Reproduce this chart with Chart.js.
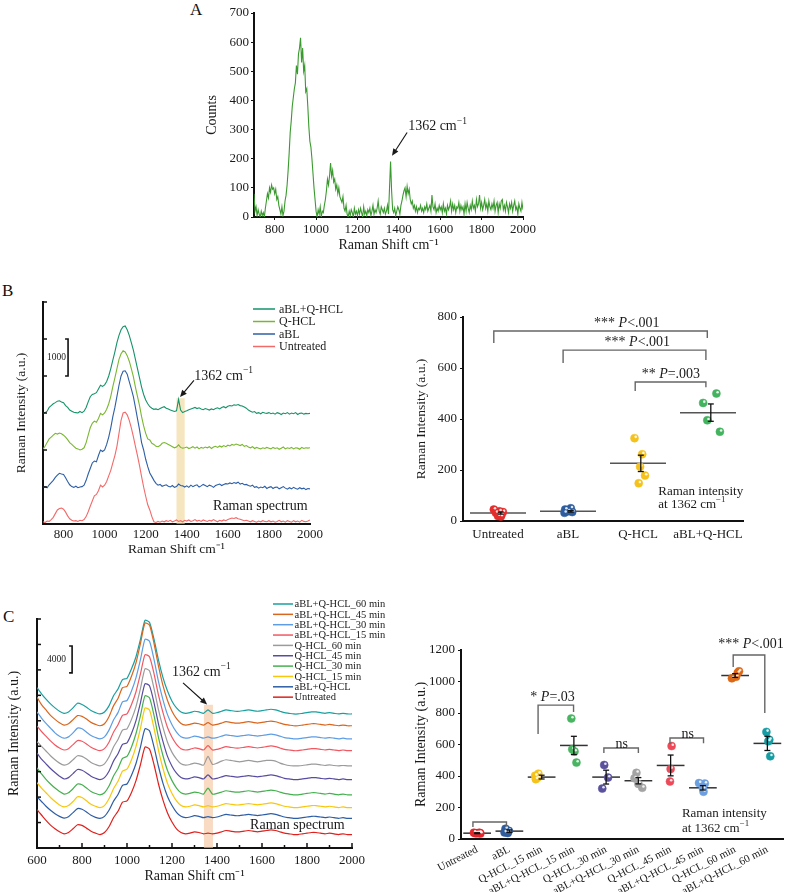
<!DOCTYPE html>
<html>
<head>
<meta charset="utf-8">
<script src="https://cdn.jsdelivr.net/npm/chart.js@4.4.0/dist/chart.umd.min.js"></script>
<style>
  body { margin: 0; background: #fff; width: 788px; height: 892px; position: relative; overflow: hidden; font-family: "Liberation Serif", serif; }
  canvas { position: absolute; }
  .panel { position: absolute; font-size: 17px; color: #111; }
</style>
</head>
<body>
<div class="panel" style="left:190px;top:0px">A</div>
<div class="panel" style="left:2px;top:281px">B</div>
<div class="panel" style="left:3px;top:607px">C</div>
<canvas id="chartA" width="340" height="256" style="left:200px;top:0px"></canvas>
<canvas id="chartB1" width="360" height="268" style="left:0px;top:290px"></canvas>
<canvas id="chartB2" width="388" height="250" style="left:400px;top:300px"></canvas>
<canvas id="chartC1" width="400" height="288" style="left:0px;top:598px"></canvas>
<canvas id="chartC2" width="388" height="292" style="left:400px;top:600px"></canvas>
<script>
// ---- data: panel A (counts, 700..2000 every 5 cm-1)
const countsA = [
  80,20,35,5,25,10,0,20,5,15,
  0,30,55,80,65,100,85,110,95,100,
  80,95,60,70,40,25,10,35,5,20,
  55,75,110,160,220,290,330,380,410,440,
  460,520,490,560,580,615,530,580,500,520,
  430,440,380,310,260,240,200,150,100,60,
  20,0,25,10,35,0,20,15,40,60,
  90,130,110,140,185,140,160,120,130,95,
  110,80,100,70,60,50,70,30,20,40,
  10,0,20,5,25,15,0,30,10,20,
  5,25,10,30,15,0,35,10,20,5,
  25,15,30,5,20,40,10,25,15,30,
  55,20,10,35,25,15,30,10,20,40,
  10,100,190,90,25,15,30,5,20,35,
  25,10,40,55,75,90,100,70,105,80,
  95,60,45,55,30,40,20,35,15,30,
  25,40,20,30,15,35,25,45,20,30,
  40,20,75,35,25,45,15,30,20,40,
  25,35,15,45,20,30,10,40,25,35,
  55,20,45,25,40,15,35,30,50,20,
  40,25,35,10,45,20,50,30,15,40,
  25,55,30,40,20,60,35,45,75,30,
  50,25,40,60,30,45,20,55,35,25,
  45,30,55,20,40,50,15,45,30,55,
  60,25,40,20,50,35,15,45,30,50,
  20,40,55,25,35,10,45,30,20,50,
  25];

// ---- data: panel B spectra (700..2000 every 10 cm-1)
const untreatedB = [
  60,40,80,70,120,180,280,380,420,430,
  400,320,220,140,100,80,90,70,100,90,
  120,200,330,480,620,760,800,900,1050,1000,
  1050,1150,1300,1450,1650,1850,2100,2450,2800,3000,
  3020,2950,2800,2600,2360,2100,1850,1580,1280,1000,
  750,520,380,200,60,40,70,50,80,60,
  90,70,100,60,80,110,70,90,60,100,
  80,110,70,90,120,80,100,70,110,90,
  70,100,80,120,90,60,100,80,110,90,
  120,140,160,150,170,140,130,110,90,100,
  80,60,90,70,50,80,60,90,70,60,
  90,60,80,50,70,100,60,80,50,90,
  70,50,90,60,80,50,100,70,60,80,
  110];
const aBLB = [
  990,1010,980,1060,1120,1180,1260,1320,1370,1350,
  1340,1250,1150,1060,1010,990,1020,980,1000,1010,
  1050,1180,1350,1500,1650,1700,1680,1850,2000,1960,
  2000,2150,2350,2600,2900,3150,3450,3750,4000,4130,
  4140,4050,3850,3650,3440,3150,2850,2550,2200,2000,
  1750,1550,1380,1280,1180,1100,1050,1070,1020,1040,
  1060,1020,1000,1040,990,1010,1080,1040,1030,1000,
  1030,990,1050,1010,1040,1060,1000,1030,1070,1040,
  1010,1050,1030,990,1040,1060,1080,1040,1070,1090,
  1080,1110,1090,1120,1100,1130,1080,1100,1060,1070,
  1040,1020,1050,990,1010,970,1000,980,1020,960,
  990,1010,960,990,1000,950,980,1010,970,940,
  980,950,990,960,940,980,950,970,930,960,
  950];
const qhclB = [
  2020,2100,2200,2300,2350,2400,2450,2430,2460,2440,
  2400,2350,2280,2200,2150,2100,2050,2030,2000,2020,
  2060,2200,2400,2600,2720,2780,2750,2850,2990,2950,
  3000,3100,3250,3450,3710,3950,4200,4450,4600,4680,
  4650,4550,4400,4200,3980,3700,3450,3200,2900,2650,
  2450,2300,2270,2180,2150,2100,2090,2120,2180,2200,
  2180,2150,2120,2090,2060,2080,2140,2070,2050,2060,
  2080,2040,2060,2090,2050,2080,2030,2070,2050,2080,
  2060,2090,2040,2080,2100,2070,2110,2080,2120,2090,
  2130,2110,2150,2130,2160,2140,2120,2150,2100,2120,
  2080,2060,2090,2040,2070,2050,2030,2060,2040,2070,
  2050,2030,2070,2040,2060,2020,2050,2080,2030,2060,
  2040,2070,2030,2060,2050,2020,2070,2040,2060,2050,
  2060];
const comboB = [
  2990,3010,3050,3150,3200,3250,3280,3320,3330,3300,
  3280,3200,3150,3080,3050,3020,3010,3000,3040,3010,
  3050,3150,3300,3440,3500,3520,3550,3650,3750,3720,
  3760,3850,4000,4200,4430,4650,4900,5100,5250,5330,
  5350,5250,5100,4900,4700,4450,4200,3950,3700,3500,
  3350,3250,3170,3130,3100,3110,3090,3120,3150,3170,
  3130,3110,3080,3060,3040,3060,3370,3080,3010,3040,
  3060,3090,3110,3130,3150,3120,3140,3110,3090,3120,
  3100,3080,3110,3090,3120,3140,3110,3150,3170,3140,
  3180,3200,3190,3220,3210,3230,3200,3190,3160,3130,
  3080,3050,3020,3040,2990,3010,2980,3020,3000,2990,
  3010,2980,3000,2970,3010,2990,2960,3000,2980,3010,
  2970,3000,2980,3010,2960,2990,3000,2970,2990,2980,
  2990];

// ---- data: panel B dot plot (intensity at 1362 cm-1)
const catsB = ['Untreated', 'aBL', 'Q-HCL', 'aBL+Q-HCL'];
const pointsB = [
  [45, 38, 32, 25, 20, 18, 35],
  [50, 45, 38, 32, 35],
  [325, 262, 213, 178, 148],
  [500, 463, 395, 350]
];
const jitterB = [
  [-0.06, 0.02, -0.03, 0.05, 0.0, 0.04, 0.07],
  [0.04, -0.04, 0.0, -0.05, 0.06],
  [-0.05, 0.06, 0.03, 0.1, 0.01],
  [0.12, -0.07, -0.01, 0.17]
];
const meansB = [31, 38, 226, 425];
const semB = [4, 3, 32, 34];

// ---- data: panel C spectra (600..2000 every 20 cm-1)
const untreatedC = [3700,2900,2100,1400,850,400,100,300,850,1450,1350,950,500,200,0,300,1150,2500,3450,4800,5000,6250,8000,10400,13000,12700,10400,7500,5100,3200,1850,850,300,100,200,400,300,100,200,100,200,400,600,500,400,400,500,600,500,400,500,600,700,600,400,200,100,0,0,100,200,300,300,200,100,200,100,0,100,0,0];
const comboC = [5600,4900,4200,3600,3100,2700,2450,2650,3250,3850,3750,3350,2850,2550,2400,2700,3600,4950,5950,7300,7500,8800,10550,13000,15700,15400,13000,10100,7600,5650,4300,3300,2700,2500,2600,2800,2700,2500,2650,2500,2600,2800,3000,2900,2800,2800,2900,3000,2900,2800,2900,3000,3100,3000,2800,2600,2500,2400,2400,2500,2600,2700,2700,2600,2500,2600,2500,2400,2500,2400,2400];
const q15C = [7700,6900,6200,5500,4900,4400,4100,4300,4900,5600,5500,5000,4500,4200,4000,4300,5300,6800,7900,9400,9700,11100,13100,15800,18800,18500,15800,12500,9800,7600,6100,5000,4300,4100,4200,4400,4300,4100,4300,4100,4200,4400,4600,4500,4400,4400,4500,4600,4500,4400,4500,4600,4700,4600,4400,4200,4100,4000,4000,4100,4200,4300,4300,4200,4100,4200,4100,4000,4100,4000,4000];
const q30C = [9900,9000,8200,7500,6900,6400,6000,6200,6800,7500,7400,6900,6400,6100,5900,6200,7200,8700,9800,11300,11600,13000,15000,17700,20600,20300,17700,14400,11700,9500,8000,6900,6200,6000,6100,6300,6200,6000,6900,6000,6100,6300,6500,6400,6300,6300,6400,6500,6400,6300,6400,6500,6600,6500,6300,6100,6000,5900,5900,6000,6100,6200,6200,6100,6000,6100,6000,5900,6000,5900,5900];
const q45C = [12100,11200,10500,9800,9200,8650,8250,8450,9050,9650,9550,9150,8650,8350,8150,8450,9400,10900,12000,13400,13600,15000,16900,19600,22400,22100,19600,16400,13800,11600,10150,9100,8450,8250,8350,8550,8450,8250,8850,8250,8350,8550,8750,8650,8550,8550,8650,8750,8650,8550,8650,8750,8850,8750,8550,8350,8250,8150,8150,8250,8350,8450,8450,8350,8250,8350,8250,8150,8250,8150,8150];
const q60C = [13800,13100,12400,11700,11100,10600,10300,10500,11100,11700,11600,11200,10700,10400,10200,10500,11500,13000,14100,15500,15700,17100,19000,21700,24600,24300,21700,18500,15900,13700,12200,11200,10500,10300,10400,10600,10500,10300,11600,10400,10600,10900,11100,11000,10900,10800,10900,11000,10900,10800,10900,11000,11000,10900,10600,10400,10250,10200,10200,10250,10350,10450,10450,10350,10250,10350,10250,10200,10250,10200,10200];
const combo15C = [16100,15300,14600,13900,13300,12850,12550,12750,13350,13950,13850,13450,12950,12650,12450,12750,13700,15200,16300,17700,17900,19300,21200,23900,26700,26400,23900,20700,18100,15900,14450,13400,12750,12550,12650,12850,12750,12550,13200,12550,12650,12850,13050,12950,12850,12850,12950,13050,12950,12850,12950,13050,13150,13050,12850,12650,12550,12450,12450,12550,12650,12750,12750,12650,12550,12650,12550,12450,12550,12450,12450];
const combo30C = [18200,17300,16500,15800,15100,14600,14300,14500,15100,15800,15700,15200,14700,14400,14200,14500,15500,17000,18100,19700,19900,21300,23300,26000,29000,28700,26000,22700,20000,17800,16300,15200,14500,14300,14400,14600,14500,14300,14500,14300,14400,14600,14800,14700,14600,14600,14700,14800,14700,14600,14700,14800,14900,14800,14600,14400,14300,14200,14200,14300,14400,14500,14500,14400,14300,14400,14300,14200,14300,14200,14200];
const combo45C = [20400,19300,18500,17700,17100,16600,16250,16450,17050,17650,17550,17150,16650,16350,16150,16450,17500,19100,20200,21800,22000,23500,25500,28400,31400,31100,28400,25000,22100,19900,18300,17200,16500,16250,16350,16550,16450,16250,16600,16250,16350,16550,16750,16650,16550,16550,16650,16750,16650,16550,16650,16750,16850,16750,16550,16350,16250,16150,16150,16250,16350,16450,16450,16350,16250,16350,16250,16150,16250,16150,16150];
const combo60C = [21800,20900,20100,19400,18800,18300,18000,18200,18800,19500,19300,18900,18400,18100,17900,18200,19100,20600,21600,23000,23200,24600,26400,29000,31800,31500,29000,25900,23300,21300,19800,18800,18200,18000,18100,18300,18200,18000,18500,18000,18100,18300,18500,18400,18300,18300,18400,18500,18400,18300,18400,18500,18600,18500,18300,18100,18000,17900,17900,18000,18100,18200,18200,18100,18000,18100,18000,17900,18000,17900,17900];
const seriesC = [untreatedC, comboC, q15C, q30C, q45C, q60C, combo15C, combo30C, combo45C, combo60C];
const labelsC = ['Untreated', 'aBL+Q-HCL', 'Q-HCL_15 min', 'Q-HCL_30 min', 'Q-HCL_45 min', 'Q-HCL_60 min',
  'aBL+Q-HCL_15 min', 'aBL+Q-HCL_30 min', 'aBL+Q-HCL_45 min', 'aBL+Q-HCL_60 min'];

// ---- data: panel C dot plot
const catsC = ['Untreated', 'aBL', 'Q-HCL_15 min', 'aBL+Q-HCL_15 min', 'Q-HCL_30 min', 'aBL+Q-HCL_30 min',
  'Q-HCL_45 min', 'aBL+Q-HCL_45 min', 'Q-HCL_60 min', 'aBL+Q-HCL_60 min'];
const pointsC = [
  [40, 38, 36, 35, 37, 39],
  [65, 52, 42, 38],
  [415, 402, 390, 380],
  [765, 570, 555, 485],
  [470, 390, 320],
  [420, 385, 350, 325],
  [590, 445, 365],
  [355, 352, 320, 300],
  [1020, 1030, 1055, 1065],
  [680, 630, 620, 525]
];
const jitterC = [
  [-0.1, 0.05, -0.05, 0.1, 0.0, 0.08],
  [-0.12, -0.02, -0.15, -0.05],
  [-0.1, -0.2, -0.12, -0.18],
  [-0.08, -0.05, 0.02, 0.08],
  [-0.06, 0.06, -0.12],
  [-0.06, -0.12, 0.0, 0.12],
  [0.03, 0.0, -0.02],
  [-0.12, 0.06, 0.0, 0.02],
  [-0.1, 0.03, 0.08, 0.12],
  [-0.03, 0.06, 0.03, 0.09]
];
const meansC = [37, 50, 393, 594, 393, 370, 467, 325, 1038, 607];
const semC = [3, 8, 12, 58, 44, 20, 66, 14, 12, 45];

// ---- styles
const SERIF = '"Liberation Serif", "Times New Roman", serif';
const colorsB1 = ['#f26a6a', '#2d5fa6', '#7ab730', '#15936a'];
const colorsB2 = ['#e52d2d', '#2e5d9f', '#f5c21b', '#44b35f'];
const colorsC1 = ['#e0201c', '#2d5da5', '#f8c70c', '#45b04f', '#574da0', '#9b9b9b', '#f15862', '#5d9de3', '#d9661c', '#1a9f9f'];
const colorsC2 = ['#e3262b', '#2f5c9c', '#f5c31a', '#48b561', '#5a529c', '#a3a3a3', '#ec4a58', '#6c9fdf', '#dc6714', '#169da3'];

Chart.defaults.font.family = SERIF;
Chart.defaults.color = '#1a1a1a';
Chart.defaults.animation = false;
Chart.defaults.plugins.legend.display = false;
Chart.defaults.plugins.tooltip.enabled = false;

const xsA = []; for (let s = 700; s <= 2000; s += 5) xsA.push(s);
const xsB = []; for (let s = 700; s <= 2000; s += 10) xsB.push(s);
const xsC = []; for (let s = 600; s <= 2000; s += 20) xsC.push(s);
const toXY = (xs, ys) => ys.map((v, i) => ({x: xs[i], y: v}));
const plain = {useGrouping: false};

// ---- helpers
const fixW = w => s => { s.width = w; };
const fixH = h => s => { s.height = h; };

function setFont(ctx, size, italic) {
  ctx.font = (italic ? 'italic ' : '') + size + 'px ' + SERIF;
}

// parts: [text, style] ; style 'i' = italic, 's' = superscript
function richText(ctx, parts, x, y, size, align) {
  let w = 0;
  for (const [t, st] of parts) { setFont(ctx, st === 's' ? size * 0.68 : size, st === 'i'); w += ctx.measureText(t).width; }
  let cx = align === 'center' ? x - w / 2 : align === 'right' ? x - w : x;
  ctx.textAlign = 'left';
  ctx.textBaseline = 'middle';
  for (const [t, st] of parts) {
    setFont(ctx, st === 's' ? size * 0.68 : size, st === 'i');
    ctx.fillText(t, cx, st === 's' ? y - size * 0.38 : y);
    cx += ctx.measureText(t).width;
  }
}
const cm1362 = [['1362 cm', ''], ['\u22121', 's']];

function seg(ctx, x0, y0, x1, y1) {
  ctx.beginPath(); ctx.moveTo(x0, y0); ctx.lineTo(x1, y1); ctx.stroke();
}

function arrow(ctx, x0, y0, x1, y1) {
  const a = Math.atan2(y1 - y0, x1 - x0), L = 7, W = 3;
  seg(ctx, x0, y0, x1 - Math.cos(a) * L * 0.7, y1 - Math.sin(a) * L * 0.7);
  ctx.beginPath();
  ctx.moveTo(x1, y1);
  ctx.lineTo(x1 - L * Math.cos(a) + W * Math.sin(a), y1 - L * Math.sin(a) - W * Math.cos(a));
  ctx.lineTo(x1 - L * Math.cos(a) - W * Math.sin(a), y1 - L * Math.sin(a) + W * Math.cos(a));
  ctx.closePath();
  ctx.fill();
}

// decorations for the spectrum panels
function spectrumDecor(o) {
  return {
    id: 'spectrumDecor',
    beforeDatasetsDraw(chart) {
      if (!o.band) return;
      const {ctx, scales: {x, y}} = chart;
      const x0 = x.getPixelForValue(o.band.from), x1 = x.getPixelForValue(o.band.to);
      const y0 = y.getPixelForValue(o.band.top), y1 = y.getPixelForValue(y.min);
      ctx.save();
      ctx.fillStyle = o.band.color;
      ctx.fillRect(x0, y0, x1 - x0, y1 - y0);
      ctx.restore();
    },
    afterDraw(chart) {
      const {ctx, chartArea: ca, scales: {x, y}} = chart;
      ctx.save();
      ctx.strokeStyle = '#111';
      ctx.fillStyle = '#1a1a1a';
      ctx.lineWidth = 1.5;
      if (o.yTicksIn) {
        for (const t of y.ticks) {
          if (t.value < 0) continue;
          const py = y.getPixelForValue(t.value);
          seg(ctx, ca.left, py, ca.left + o.yTicksIn, py);
        }
      }
      if (o.xTicksIn) {
        for (const t of x.ticks) {
          const px = x.getPixelForValue(t.value);
          seg(ctx, px, ca.bottom, px, ca.bottom - (t.value % 200 === 0 ? o.xTicksIn : o.xTicksIn * 0.6));
        }
      }
      if (o.bar) {
        const bx = x.getPixelForValue(o.bar.x), b0 = y.getPixelForValue(o.bar.from), b1 = y.getPixelForValue(o.bar.to);
        ctx.lineWidth = 1.6;
        ctx.beginPath();
        ctx.moveTo(bx - 3, b1); ctx.lineTo(bx, b1); ctx.lineTo(bx, b0); ctx.lineTo(bx - 3, b0);
        ctx.stroke();
        setFont(ctx, o.bar.size, false);
        ctx.textAlign = 'right'; ctx.textBaseline = 'middle';
        ctx.fillText(o.bar.label, x.getPixelForValue(o.bar.labelX), (b0 + b1) / 2);
      }
      if (o.mark) {
        ctx.lineWidth = 1.1;
        arrow(ctx, x.getPixelForValue(o.mark.tail[0]), y.getPixelForValue(o.mark.tail[1]),
          x.getPixelForValue(o.mark.head[0]), y.getPixelForValue(o.mark.head[1]));
        richText(ctx, cm1362, x.getPixelForValue(o.mark.text[0]), y.getPixelForValue(o.mark.text[1]), o.mark.size, 'left');
      }
      if (o.note) {
        setFont(ctx, o.note.size, false);
        ctx.textAlign = 'left'; ctx.textBaseline = 'middle';
        ctx.fillText(o.note.text, x.getPixelForValue(o.note.x), y.getPixelForValue(o.note.y));
      }
      if (o.legend) {
        const L = o.legend, ds = chart.data.datasets;
        const x0 = ca.right + L.dx;
        for (let k = 0; k < ds.length; k++) {
          const d = ds[ds.length - 1 - k];
          const py = ca.top + L.dy + k * L.row;
          ctx.strokeStyle = d.borderColor;
          ctx.lineWidth = 1.5;
          seg(ctx, x0, py, x0 + L.len, py);
          setFont(ctx, L.size, false);
          ctx.textAlign = 'left'; ctx.textBaseline = 'middle';
          ctx.fillText(d.label, x0 + L.len + L.gap, py + 0.5);
        }
      }
      ctx.restore();
    }
  };
}

// decorations for the dot plots: mean lines, error bars, brackets, note
function dotDecor(o) {
  return {
    id: 'dotDecor',
    beforeDatasetsDraw(chart) {
      const {ctx, scales: {x, y}} = chart;
      ctx.save();
      ctx.strokeStyle = o.meanColor;
      ctx.lineWidth = 1.5;
      o.means.forEach((m, i) => {
        const py = y.getPixelForValue(m);
        seg(ctx, x.getPixelForValue(i - o.half), py, x.getPixelForValue(i + o.half), py);
      });
      ctx.restore();
    },
    afterDatasetsDraw(chart) {
      const {ctx, scales: {x, y}} = chart;
      ctx.save();
      ctx.fillStyle = 'rgba(255,255,255,0.85)';
      chart.data.datasets.forEach((d, di) => {
        chart.getDatasetMeta(di).data.forEach(p => {
          ctx.beginPath(); ctx.arc(p.x + 1.2, p.y - 1.3, 1.3, 0, Math.PI * 2); ctx.fill();
        });
      });
      ctx.strokeStyle = '#111';
      ctx.lineWidth = 1.3;
      o.means.forEach((m, i) => {
        const px = x.getPixelForValue(i + o.errShift);
        const lo = y.getPixelForValue(m - o.errs[i]), hi = y.getPixelForValue(m + o.errs[i]);
        seg(ctx, px, lo, px, hi);
        seg(ctx, px - 3, lo, px + 3, lo);
        seg(ctx, px - 3, hi, px + 3, hi);
      });
      ctx.restore();
    },
    afterDraw(chart) {
      const {ctx, scales: {x, y}} = chart;
      ctx.save();
      ctx.strokeStyle = '#666';
      ctx.fillStyle = '#1a1a1a';
      ctx.lineWidth = 1.4;
      o.brackets.forEach(b => {
        const xa = x.getPixelForValue(b.a), xb = x.getPixelForValue(b.b), yt = y.getPixelForValue(b.top);
        ctx.beginPath();
        ctx.moveTo(xa, y.getPixelForValue(b.endA));
        ctx.lineTo(xa, yt); ctx.lineTo(xb, yt);
        ctx.lineTo(xb, y.getPixelForValue(b.endB));
        ctx.stroke();
        if (b.text) richText(ctx, b.text, x.getPixelForValue(b.tx), y.getPixelForValue(b.ty), o.textSize, 'center');
      });
      const nx = x.getPixelForValue(o.note.x);
      setFont(ctx, o.note.size, false);
      ctx.textAlign = 'left'; ctx.textBaseline = 'middle';
      ctx.fillText('Raman intensity', nx, y.getPixelForValue(o.note.y1));
      richText(ctx, [['at ', '']].concat(cm1362), nx, y.getPixelForValue(o.note.y2), o.note.size, 'left');
      ctx.restore();
    }
  };
}

const axisBorder = {display: true, color: '#111', width: 2};

// ---------------- Panel A
new Chart(document.getElementById('chartA'), {
  type: 'line',
  data: {datasets: [{data: toXY(xsA, countsA), borderColor: '#3b9a2f', borderWidth: 1.1, pointRadius: 0, tension: 0}]},
  options: {
    responsive: false,
    layout: {padding: {top: 13, right: 17, left: 0, bottom: 0}},
    scales: {
      x: {
        type: 'linear', min: 700, max: 2000,
        afterFit: fixH(39),
        border: axisBorder,
        grid: {drawOnChartArea: false, tickLength: 3, color: '#111'},
        ticks: {stepSize: 200, includeBounds: false, padding: 2, font: {size: 13}, format: plain},
        title: {display: true, text: 'Raman Shift cm\u207B\u00B9', font: {size: 14}, padding: {top: 0, bottom: 2.6}}
      },
      y: {
        min: 0, max: 700,
        afterFit: fixW(54),
        border: axisBorder,
        grid: {drawOnChartArea: false, tickLength: 3, color: '#111'},
        ticks: {stepSize: 100, padding: 2, font: {size: 13}},
        title: {display: true, text: 'Counts', font: {size: 14}, padding: {top: 4, bottom: 0}}
      }
    }
  },
  plugins: [spectrumDecor({
    mark: {text: [1445, 310], tail: [1440, 290], head: [1367, 210], size: 14}
  })]
});

// ---------------- Panel B, spectra
const specB = [untreatedB, aBLB, qhclB, comboB];
new Chart(document.getElementById('chartB1'), {
  type: 'line',
  data: {
    datasets: specB.map((s, i) => ({
      label: catsB[i], data: toXY(xsB, s), borderColor: colorsB1[i], borderWidth: 1.1, pointRadius: 0, tension: 0
    }))
  },
  options: {
    responsive: false,
    layout: {padding: {top: 12, right: 50, left: 0, bottom: 0}},
    scales: {
      x: {
        type: 'linear', min: 700, max: 2000,
        afterFit: fixH(34),
        border: axisBorder,
        grid: {display: false, drawTicks: false},
        ticks: {stepSize: 200, includeBounds: false, padding: 3, font: {size: 13}, format: plain},
        title: {display: true, text: 'Raman Shift cm\u207B\u00B9', font: {size: 13.5}, padding: {top: 0, bottom: 0.6}}
      },
      y: {
        min: 0, max: 6000,
        afterFit: fixW(43),
        border: axisBorder,
        grid: {display: false, drawTicks: false},
        ticks: {display: false, stepSize: 1000},
        title: {display: true, text: 'Raman Intensity (a.u.)', font: {size: 13.5}, padding: {top: 13, bottom: 0}}
      }
    }
  },
  plugins: [spectrumDecor({
    band: {from: 1350, to: 1390, top: 3400, color: 'rgba(240,214,150,0.6)'},
    yTicksIn: 4,
    bar: {x: 822, from: 4000, to: 5000, label: '1000', labelX: 812, size: 9.5},
    mark: {text: [1437, 4000], tail: [1435, 3880], head: [1367, 3430], size: 14},
    note: {text: 'Raman spectrum', x: 1528, y: 486, size: 14},
    legend: {dx: -57, dy: 7, row: 12.5, len: 22, gap: 4, size: 12}
  })]
});

// ---------------- Panel B, dot plot
new Chart(document.getElementById('chartB2'), {
  type: 'scatter',
  data: {
    datasets: pointsB.map((vals, i) => ({
      label: catsB[i],
      data: vals.map((v, k) => ({x: i + jitterB[i][k], y: v})),
      backgroundColor: colorsB2[i], borderColor: colorsB2[i], borderWidth: 0.5, pointRadius: 4
    }))
  },
  options: {
    responsive: false,
    layout: {padding: {top: 17, right: 45, left: 0, bottom: 0}},
    scales: {
      x: {
        type: 'linear', min: -0.5, max: 3.5,
        afterFit: fixH(29),
        afterBuildTicks: s => { s.ticks = catsB.map((c, i) => ({value: i})); },
        border: axisBorder,
        grid: {display: false, drawTicks: false},
        ticks: {padding: 6, font: {size: 13}, autoSkip: false, maxRotation: 0, callback: v => catsB[v]}
      },
      y: {
        min: 0, max: 800,
        afterFit: fixW(63),
        border: axisBorder,
        grid: {drawOnChartArea: false, tickLength: 3, color: '#111'},
        ticks: {stepSize: 200, padding: 3, font: {size: 13}, format: plain},
        title: {display: true, text: 'Raman Intensity (a.u.)', font: {size: 13.5}, padding: {top: 13.6, bottom: 0}}
      }
    }
  },
  plugins: [dotDecor({
    means: meansB, errs: semB, half: 0.4, errShift: 0.04, meanColor: '#555', textSize: 14,
    brackets: [
      {a: -0.06, b: 2.99, top: 745, endA: 698, endB: 718, tx: 1.84, ty: 776, text: [['*** ', ''], ['P', 'i'], ['<.001', '']]},
      {a: 0.93, b: 2.97, top: 670, endA: 620, endB: 631, tx: 1.99, ty: 702, text: [['*** ', ''], ['P', 'i'], ['<.001', '']]},
      {a: 1.96, b: 2.97, top: 545, endA: 510, endB: 525, tx: 2.47, ty: 576, text: [['** ', ''], ['P', 'i'], ['=.003', '']]}
    ],
    note: {x: 2.29, y1: 114, y2: 64, size: 13}
  })]
});

// ---------------- Panel C, spectra
new Chart(document.getElementById('chartC1'), {
  type: 'line',
  data: {
    datasets: seriesC.map((s, i) => ({
      label: labelsC[i], data: toXY(xsC, s), borderColor: colorsC1[i], borderWidth: 1.2, pointRadius: 0, tension: 0.2
    }))
  },
  options: {
    responsive: false,
    layout: {padding: {top: 21, right: 48, left: 0, bottom: 0}},
    scales: {
      x: {
        type: 'linear', min: 600, max: 2000,
        afterFit: fixH(38),
        border: axisBorder,
        grid: {display: false, drawTicks: false},
        ticks: {stepSize: 100, autoSkip: false, maxRotation: 0, padding: 5, font: {size: 13},
          callback: v => (v % 200 === 0 ? String(v) : '')},
        title: {display: true, text: 'Raman Shift cm\u207B\u00B9', font: {size: 14}, padding: {top: 0, bottom: 1.6}}
      },
      y: {
        min: -2000, max: 32000,
        afterFit: fixW(37),
        border: axisBorder,
        grid: {display: false, drawTicks: false},
        ticks: {display: false, stepSize: 4000},
        title: {display: true, text: 'Raman Intensity (a.u.)', font: {size: 14}, padding: {top: 5.6, bottom: 0}}
      }
    }
  },
  plugins: [spectrumDecor({
    band: {from: 1342, to: 1382, top: 19260, color: 'rgba(246,200,165,0.65)'},
    yTicksIn: 4,
    xTicksIn: 5,
    bar: {x: 756, from: 24000, to: 28000, label: '4000', labelX: 729, size: 9.5},
    mark: {text: [1200, 24150], tail: [1249, 22520], head: [1356, 19300], size: 14},
    note: {text: 'Raman spectrum', x: 1547, y: 1333, size: 14},
    legend: {dx: -79, dy: -15, row: 10.35, len: 20, gap: 1.5, size: 10.5}
  })]
});

// ---------------- Panel C, dot plot
new Chart(document.getElementById('chartC2'), {
  type: 'scatter',
  data: {
    datasets: pointsC.map((vals, i) => ({
      label: catsC[i],
      data: vals.map((v, k) => ({x: i + jitterC[i][k], y: v})),
      backgroundColor: colorsC2[i], borderColor: colorsC2[i], borderWidth: 0.5, pointRadius: 4
    }))
  },
  options: {
    responsive: false,
    layout: {padding: {top: 50, right: 0, left: 0, bottom: 0}},
    scales: {
      x: {
        type: 'linear', min: -0.5, max: 9.5,
        afterFit: fixH(53),
        afterBuildTicks: s => { s.ticks = catsC.map((c, i) => ({value: i})); },
        border: axisBorder,
        grid: {display: false, drawTicks: false},
        ticks: {padding: 4, font: {size: 11}, autoSkip: false, minRotation: 27, maxRotation: 27, callback: v => catsC[v]}
      },
      y: {
        min: 0, max: 1200,
        afterFit: fixW(61),
        border: axisBorder,
        grid: {drawOnChartArea: false, tickLength: 3, color: '#111'},
        ticks: {stepSize: 200, padding: 3, font: {size: 13}, format: plain},
        title: {display: true, text: 'Raman Intensity (a.u.)', font: {size: 14}, padding: {top: 12.6, bottom: 0}}
      }
    }
  },
  plugins: [dotDecor({
    means: meansC, errs: semC, half: 0.43, errShift: 0, meanColor: '#333', textSize: 14,
    brackets: [
      {a: -0.13, b: 0.91, top: 108, endA: 76, endB: 80},
      {a: 1.89, b: 2.99, top: 850, endA: 667, endB: 806, tx: 2.34, ty: 902, text: [['* ', ''], ['P', 'i'], ['=.03', '']]},
      {a: 3.93, b: 5.0, top: 578, endA: 546, endB: 546, tx: 4.48, ty: 603, text: [['ns', '']]},
      {a: 5.98, b: 7.02, top: 641, endA: 603, endB: 608, tx: 6.53, ty: 667, text: [['ns', '']]},
      {a: 7.94, b: 8.92, top: 1168, endA: 1092, endB: 800, tx: 8.49, ty: 1238, text: [['*** ', ''], ['P', 'i'], ['<.001', '']]}
    ],
    note: {x: 6.35, y1: 159, y2: 63, size: 13}
  })]
});
</script>
</body>
</html>
